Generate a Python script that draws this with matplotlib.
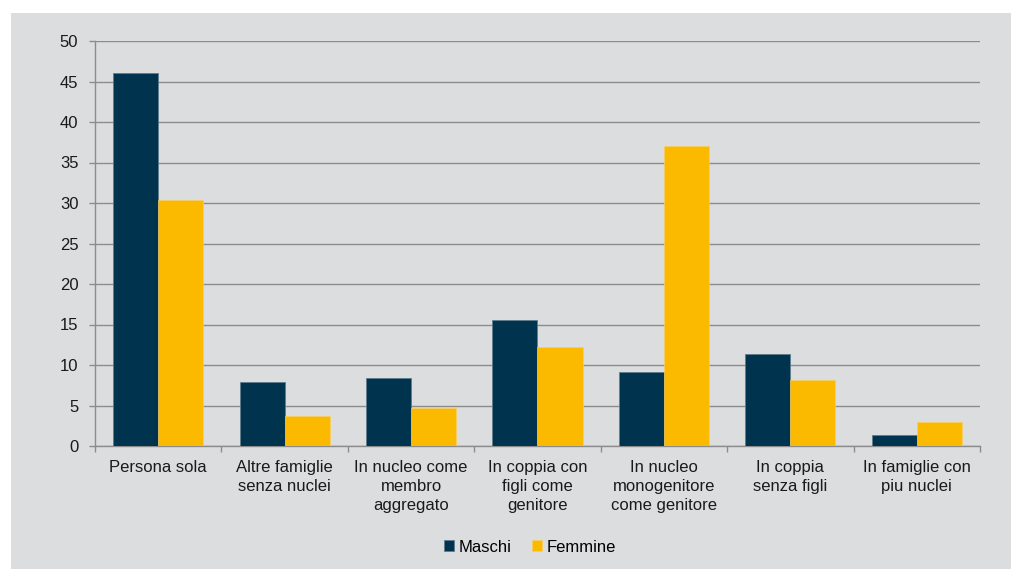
import numpy as np
import matplotlib.pyplot as plt
from matplotlib.patches import Rectangle

# ---------------- DATA ----------------
categorie = [
    "Persona sola",
    "Altre famiglie\nsenza nuclei",
    "In nucleo come\nmembro\naggregato",
    "In coppia con\nfigli come\ngenitore",
    "In nucleo\nmonogenitore\ncome genitore",
    "In coppia\nsenza figli",
    "In famiglie con\npiu nuclei",
]
maschi = [46.0, 7.9, 8.4, 15.5, 9.1, 11.3, 1.4]
femmine = [30.4, 3.7, 4.7, 12.2, 37.0, 8.2, 3.0]

# ---------------- STYLE ----------------
plt.rcParams["font.family"] = ["Liberation Sans", "DejaVu Sans"]
BG = "#DCDDDF"
NAVY = "#00334E"
GOLD = "#FBBA00"
GRID = "#8C8C8C"

fig = plt.figure(figsize=(10.12, 5.69), dpi=100, facecolor="white")
# grey panel behind the chart, leaving a thin white margin top/left
fig.patches.append(Rectangle((11 / 1012, 0), 1, 1 - 13 / 569,
                             transform=fig.transFigure, facecolor=BG,
                             edgecolor="none", zorder=-10))

ax = fig.add_axes([95 / 1012, 123 / 569, 885 / 1012, 405 / 569])
ax.set_facecolor(BG)

x = np.arange(len(categorie))
w = 0.356
ax.bar(x - w / 2, maschi, w, color=NAVY, edgecolor="#5E7D8D", linewidth=0.6,
       label="Maschi", zorder=3)
ax.bar(x + w / 2, femmine, w, color=GOLD, edgecolor="#FCD060", linewidth=0.4,
       label="Femmine", zorder=3)

ax.set_xlim(-0.5, len(categorie) - 0.5)
ax.set_ylim(0, 50)
ax.set_yticks(range(0, 51, 5))
ax.yaxis.grid(True, color=GRID, linewidth=1.0, zorder=1)
ax.set_axisbelow(True)

ax.set_xticks(x)
ax.set_xticklabels(categorie, fontsize=12, color="#1a1a1a", linespacing=1.35)
ax.set_xticks(np.arange(len(categorie) + 1) - 0.5, minor=True)
ax.tick_params(axis="x", which="major", length=0, pad=10)
ax.tick_params(axis="x", which="minor", length=4, color=GRID, width=1.0)
ax.tick_params(axis="y", length=4, color=GRID, width=1.0, pad=8,
               labelsize=12, labelcolor="#1a1a1a")

for s in ("top", "right"):
    ax.spines[s].set_visible(False)
for s in ("left", "bottom"):
    ax.spines[s].set_color(GRID)
    ax.spines[s].set_linewidth(1.0)

leg = fig.legend(loc="center", bbox_to_anchor=(530 / 1012, 1 - 547 / 569),
                 ncol=2, frameon=False, fontsize=12, handlelength=0.6,
                 handleheight=0.6, handletextpad=0.3, columnspacing=1.2)

fig.savefig("out.png", dpi=100, facecolor=fig.get_facecolor())
